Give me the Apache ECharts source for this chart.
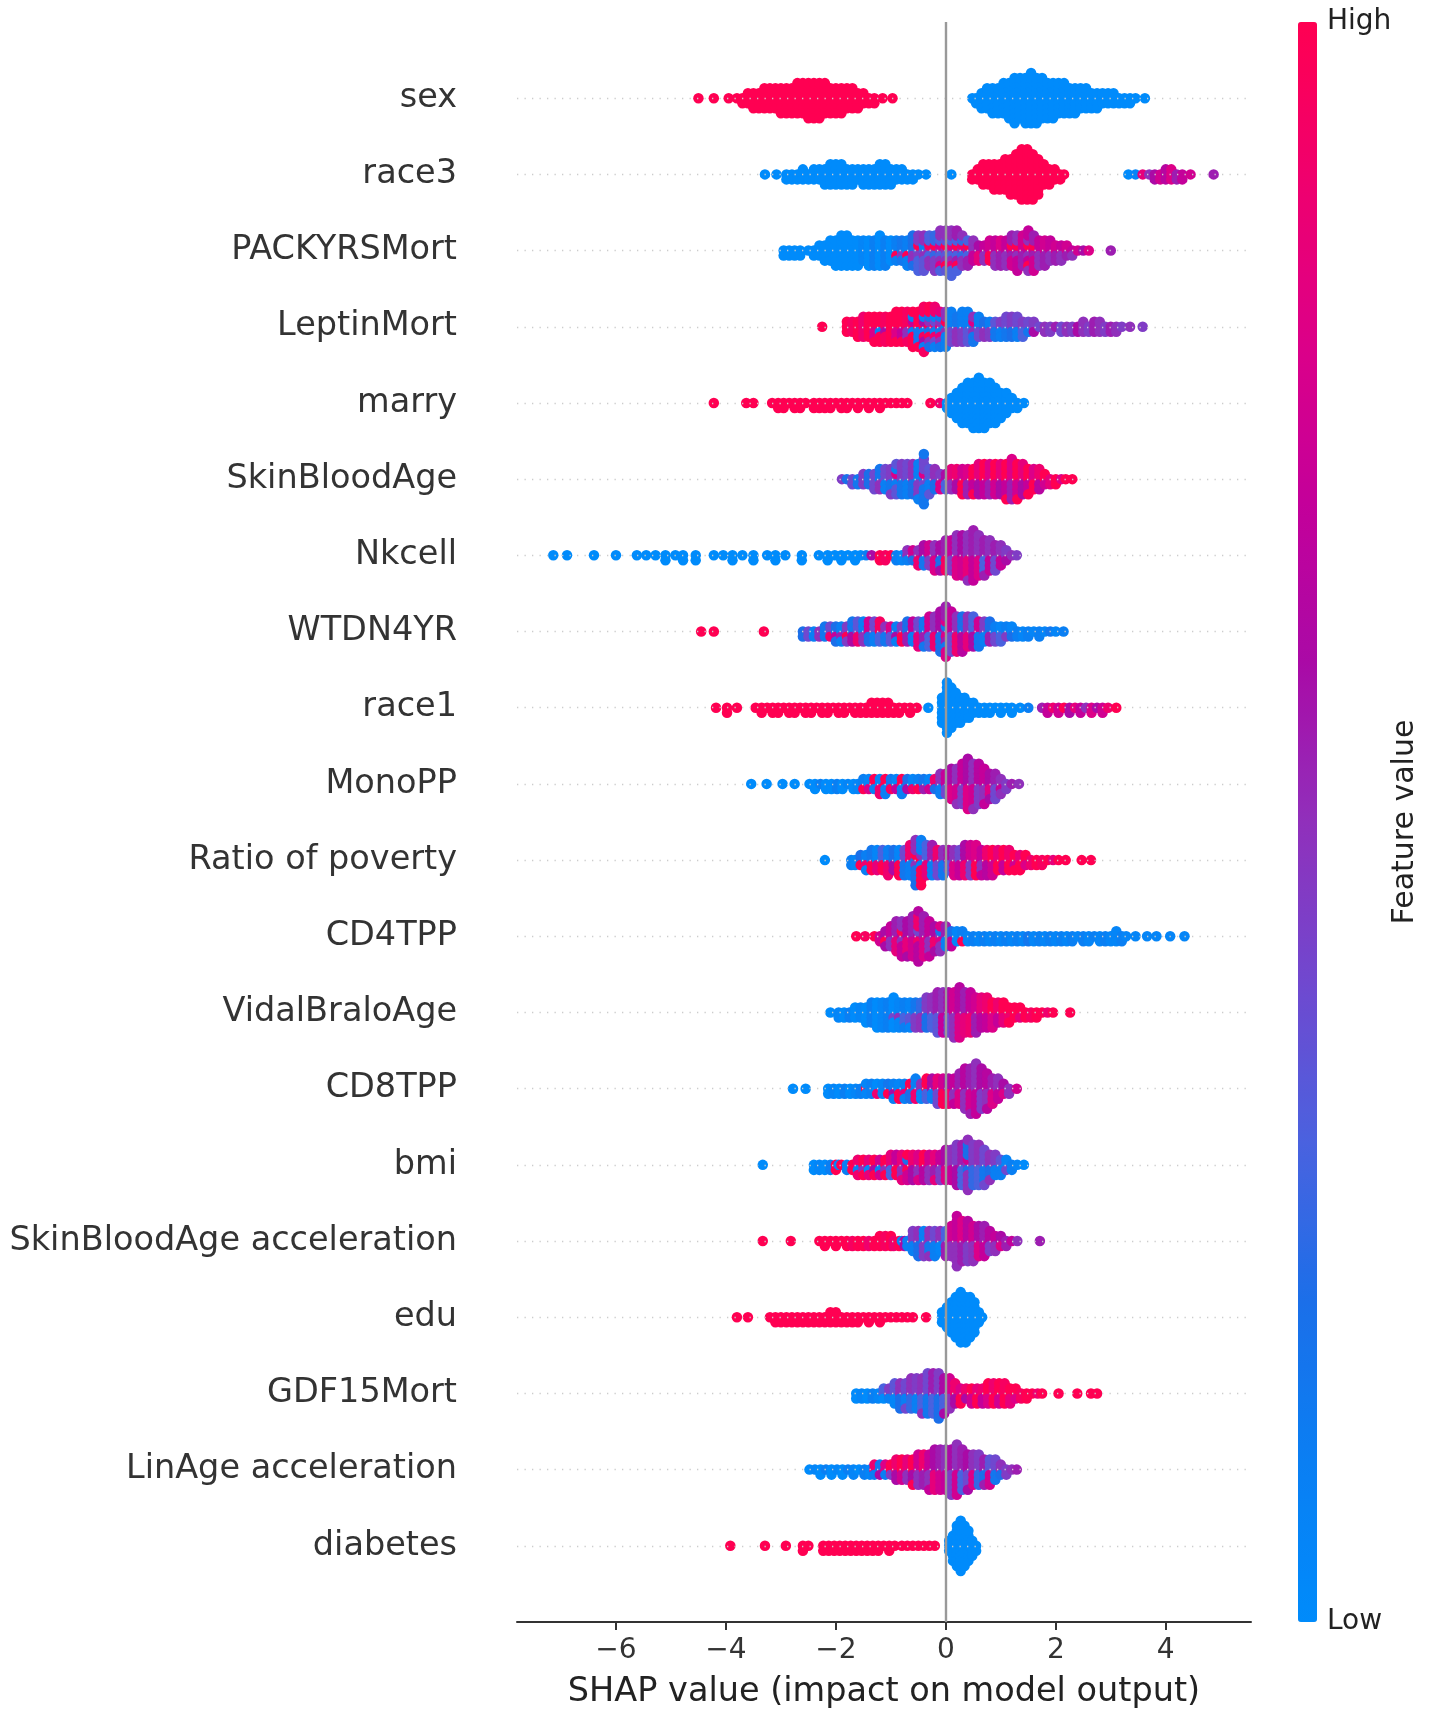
<!DOCTYPE html>
<html>
<head>
<meta charset="utf-8">
<script src="https://cdn.jsdelivr.net/npm/echarts@6/dist/echarts.min.js"></script>
<style>
html,body{margin:0;padding:0;background:#fff;}
#chart{width:1430px;height:1724px;}
</style>
</head>
<body>
<div id="chart"></div>
<script>
// Feature names, top to bottom
const featureNames = ['sex','race3','PACKYRSMort','LeptinMort','marry','SkinBloodAge','Nkcell','WTDN4YR','race1','MonoPP','Ratio of poverty','CD4TPP','VidalBraloAge','CD8TPP','bmi','SkinBloodAge acceleration','edu','GDF15Mort','LinAge acceleration','diabetes'];
const xTickValues = [-6,-4,-2,0,2,4];

// Each entry: [SHAP value, number of samples at that value, feature value 0(low)..1(high)]
const sexPts = [[-4.5,1,1],[-4.22,1,1],[-3.95,1,1],[-3.8,1,1],[-3.7,2,1],[-3.6,3,1],[-3.5,4,1],[-3.4,4,1],[-3.3,5,1],[-3.2,5,1],[-3.1,5,1],[-3.0,6,1],[-2.9,6,1],[-2.8,6,1],[-2.7,7,1],[-2.6,7,1],[-2.5,8,1],[-2.4,8,1],[-2.3,8,1],[-2.2,7,1],[-2.1,6,1],[-2.0,6,1],[-1.9,6,1],[-1.8,5,1],[-1.7,5,1],[-1.6,4,1],[-1.5,3,1],[-1.4,2,1],[-1.3,2,1],[-1.15,1,1],[-0.97,1,1],
[0.48,1,0],[0.55,2,0],[0.65,4,0],[0.75,5,0],[0.85,6,0],[0.95,6,0],[1.05,7,0],[1.15,8,0],[1.25,10,0],[1.35,9,0],[1.45,10,0],[1.55,11,0],[1.65,10,0],[1.75,9,0],[1.85,8,0],[1.95,8,0],[2.05,7,0],[2.15,7,0],[2.25,6,0],[2.35,6,0],[2.45,5,0],[2.55,5,0],[2.65,4,0],[2.75,4,0],[2.85,3,0],[2.95,3,0],[3.05,3,0],[3.15,2,0],[3.25,2,0],[3.35,2,0],[3.45,1,0],[3.62,1,0]];

const race3Pts = [[-3.29,1,0],[-3.08,1,0],[-2.9,2,0],[-2.8,2,0],[-2.7,2,0],[-2.6,3,0],[-2.5,2,0],[-2.4,3,0],[-2.3,3,0],[-2.2,4,0],[-2.1,5,0],[-2.0,5,0],[-1.9,5,0],[-1.8,4,0],[-1.7,4,0],[-1.6,3,0],[-1.5,4,0],[-1.4,4,0],[-1.3,4,0],[-1.2,5,0],[-1.1,5,0],[-1.0,4,0],[-0.9,3,0],[-0.8,3,0],[-0.7,2,0],[-0.6,2,0],[-0.5,1,0],[-0.36,1,0],[0.1,1,0],
[0.48,2,1],[0.58,3,1],[0.68,5,1],[0.78,5,1],[0.88,6,1],[0.98,6,1],[1.08,7,1],[1.18,8,1],[1.28,9,1],[1.38,11,1],[1.48,11,1],[1.58,10,1],[1.68,8,1],[1.78,5,1],[1.88,4,1],[1.98,3,1],[2.08,2,1],[2.15,1,1],
[3.32,1,0],[3.45,1,0.05],[3.58,1,0.85],[3.7,1,0.5],[3.8,2,0.6],[3.9,2,0.75],[4.0,3,0.65],[4.1,3,0.8],[4.2,2,0.55],[4.3,2,0.7],[4.45,1,0.75],[4.87,1,0.55]];

const packyrsPts = [[-2.95,2,0],[-2.85,2,0],[-2.75,2,0],[-2.65,2,0],[-2.5,1,0],[-2.4,2,0],[-2.3,3,0],[-2.2,4,0],[-2.1,5,0],[-2.0,6,0],[-1.9,7,0],[-1.8,7,0],[-1.7,6,0],[-1.6,6,0],[-1.5,5,0.05],[-1.4,6,0],[-1.3,6,0.1],[-1.2,7,0],[-1.1,6,0.1],[-1.0,5,0],[-0.9,4,0.1],[-0.9,1,1],[-0.8,4,0.15],[-0.8,1,0.45],[-0.7,5,0.1],[-0.7,1,1],[-0.6,5,0.2],[-0.6,2,0.5],[-0.5,4,0.3],[-0.5,3,0.45],[-0.5,1,1],[-0.4,4,0.35],[-0.4,3,0.5],[-0.4,1,0.1],[-0.3,3,0.5],[-0.3,3,0.3],[-0.3,1,0.95],[-0.2,4,0.45],[-0.2,3,0.25],[-0.2,1,1],[-0.1,4,0.5],[-0.1,3,0.3],[-0.1,2,0.8],[0.0,4,0.5],[0.0,3,0.35],[0.0,2,1],[0.1,4,0.5],[0.1,4,0.3],[0.1,2,0.85],[0.2,4,0.55],[0.2,3,0.3],[0.2,2,1],[0.3,4,0.5],[0.3,2,0.25],[0.3,1,0.9],[0.4,3,0.55],[0.4,2,0.3],[0.4,1,1],[0.5,3,0.5],[0.5,2,0.7],[0.6,2,0.6],[0.6,2,0.85],[0.7,2,0.7],[0.7,2,0.5],[0.8,3,0.75],[0.8,2,1],[0.9,3,0.7],[0.9,3,0.5],[1.0,3,0.8],[1.0,3,0.55],[1.1,3,0.7],[1.1,3,0.5],[1.2,3,0.75],[1.2,3,0.55],[1.2,1,1],[1.3,4,0.7],[1.3,3,0.5],[1.3,1,1],[1.4,4,0.75],[1.4,3,0.55],[1.5,4,0.7],[1.5,3,0.5],[1.5,2,1],[1.6,4,0.75],[1.6,3,0.55],[1.6,1,1],[1.7,3,0.7],[1.7,3,0.5],[1.8,3,0.75],[1.8,3,0.55],[1.9,3,0.7],[1.9,2,0.5],[2.0,2,0.75],[2.0,2,0.55],[2.1,2,0.7],[2.1,2,0.5],[2.2,2,0.75],[2.2,1,0.55],[2.3,1,0.7],[2.3,1,0.5],[2.4,1,0.75],[2.5,1,0.6],[2.6,1,0.8],[3.0,1,0.55]];

const leptinPts = [[-2.25,1,1],[-1.8,3,1],[-1.7,3,0.95],[-1.6,4,1],[-1.5,5,0.9],[-1.4,5,1],[-1.3,4,1],[-1.3,2,0.8],[-1.2,5,1],[-1.2,1,0.1],[-1.1,5,0.95],[-1.1,1,0.6],[-1.0,6,1],[-0.9,5,1],[-0.9,2,0.8],[-0.8,5,1],[-0.8,2,0.7],[-0.7,5,0.95],[-0.7,2,0.5],[-0.6,5,1],[-0.6,2,0.1],[-0.6,1,0.7],[-0.5,5,1],[-0.5,3,0.15],[-0.4,5,0.95],[-0.4,3,0.1],[-0.4,2,0.6],[-0.3,4,1],[-0.3,3,0.2],[-0.3,2,0.5],[-0.2,4,0.9],[-0.2,3,0.1],[-0.2,2,0.4],[-0.1,3,0.85],[-0.1,3,0.15],[-0.1,2,0.5],[0.0,4,0.1],[0.0,3,0.5],[0.0,1,1],[0.1,4,0.1],[0.1,3,0.4],[0.2,3,0.15],[0.2,3,0.5],[0.3,4,0.1],[0.3,3,0.45],[0.4,4,0.1],[0.4,3,0.35],[0.5,3,0.15],[0.5,2,0.5],[0.5,1,0.8],[0.6,3,0.1],[0.6,2,0.4],[0.7,2,0.2],[0.7,2,0.5],[0.8,2,0.1],[0.8,2,0.45],[0.9,2,0.35],[0.9,2,0.15],[1.0,2,0.45],[1.0,2,0.1],[1.1,3,0.4],[1.1,2,0.15],[1.2,3,0.45],[1.2,2,0.2],[1.3,3,0.4],[1.3,2,0.1],[1.4,2,0.45],[1.4,2,0.3],[1.5,2,0.4],[1.5,1,0.15],[1.6,2,0.45],[1.6,1,0.6],[1.7,1,0.4],[1.8,2,0.5],[1.9,2,0.45],[2.0,1,0.55],[2.1,2,0.4],[2.2,2,0.5],[2.3,2,0.45],[2.4,2,0.6],[2.5,3,0.5],[2.6,2,0.45],[2.7,3,0.55],[2.8,3,0.5],[2.9,2,0.45],[3.0,2,0.55],[3.1,2,0.5],[3.2,1,0.45],[3.35,1,0.5],[3.58,1,0.45]];

const marryPts = [[-4.22,1,1],[-3.63,1,1],[-3.5,1,1],[-3.16,1,1],[-3.05,2,1],[-2.95,2,1],[-2.85,1,1],[-2.75,2,1],[-2.65,2,1],[-2.55,1,1],[-2.4,2,1],[-2.3,2,1],[-2.2,2,1],[-2.1,2,1],[-2.0,1,1],[-1.9,2,1],[-1.8,2,1],[-1.7,1,1],[-1.6,2,1],[-1.5,1,1],[-1.4,2,1],[-1.3,1,1],[-1.2,2,1],[-1.1,1,1],[-1.0,1,1],[-0.9,1,1],[-0.8,1,1],[-0.7,1,1],[-0.28,1,1],[-0.11,1,0.9],
[0.02,2,0],[0.1,4,0],[0.2,6,0],[0.3,8,0],[0.4,9,0],[0.5,10,0],[0.6,11,0],[0.7,10,0],[0.8,9,0],[0.9,8,0],[1.0,6,0],[1.1,5,0],[1.2,3,0],[1.3,2,0],[1.42,1,0]];

const skinBloodAgePts = [[-1.89,1,0.45],[-1.8,1,0.2],[-1.7,2,0.4],[-1.6,2,0.15],[-1.5,3,0.45],[-1.4,3,0.2],[-1.3,4,0.4],[-1.2,3,0.15],[-1.2,2,0.5],[-1.1,3,0.4],[-1.1,2,0.1],[-1.0,4,0.45],[-1.0,2,0.15],[-0.9,4,0.35],[-0.9,2,0.1],[-0.9,1,0.8],[-0.8,4,0.45],[-0.8,3,0.15],[-0.7,4,0.4],[-0.7,3,0.1],[-0.6,4,0.5],[-0.6,3,0.2],[-0.5,5,0.1],[-0.5,3,0.45],[-0.4,6,0.15],[-0.4,4,0.4],[-0.4,1,0.8],[-0.3,4,0.35],[-0.3,2,0.1],[-0.2,3,0.5],[-0.2,2,0.2],[-0.1,2,0.45],[-0.1,2,0.8],[0.0,2,0.6],[0.0,2,0.3],[0.1,3,0.85],[0.1,2,0.5],[0.2,3,0.9],[0.2,2,0.6],[0.3,3,0.75],[0.3,3,1],[0.4,3,0.8],[0.4,3,0.55],[0.5,4,1],[0.5,2,0.7],[0.6,4,0.85],[0.6,3,0.6],[0.7,4,1],[0.7,3,0.7],[0.8,4,0.8],[0.8,3,0.55],[0.9,4,1],[0.9,3,0.75],[1.0,4,0.85],[1.0,3,0.6],[1.1,5,1],[1.1,3,0.7],[1.2,5,0.8],[1.2,4,0.55],[1.3,5,1],[1.3,3,0.75],[1.4,4,0.85],[1.4,3,0.6],[1.5,4,1],[1.5,2,0.7],[1.6,3,0.8],[1.6,2,1],[1.7,3,0.9],[1.7,2,0.65],[1.8,2,1],[1.8,1,0.75],[1.9,2,0.85],[2.0,2,1],[2.1,1,0.8],[2.18,1,1],[2.3,1,1]];

const nkcellPts = [[-7.14,1,0],[-6.89,1,0],[-6.4,1,0],[-6.0,1,0],[-5.62,1,0],[-5.45,1,0],[-5.28,1,0],[-5.1,2,0],[-4.92,1,0],[-4.78,2,0],[-4.55,2,0],[-4.22,1,0],[-4.05,1,0],[-3.88,2,0],[-3.7,1,0],[-3.5,2,0],[-3.25,1,0],[-3.1,2,0],[-2.92,1,0],[-2.62,2,0],[-2.31,1,0],[-2.15,2,0],[-2.02,1,0],[-1.9,2,0],[-1.78,1,0],[-1.65,2,0],[-1.55,1,0],[-1.45,1,0.1],[-1.35,1,0.6],[-1.2,2,1],[-1.1,2,0.95],[-1.0,1,1],[-0.9,2,0.1],[-0.8,2,0.05],[-0.7,2,0.5],[-0.7,1,0.1],
[-0.6,2,0.75],[-0.6,1,0.2],[-0.5,2,0.5],[-0.5,2,0.9],[-0.4,3,0.6],[-0.4,2,0.15],[-0.3,3,0.75],[-0.3,2,0.45],[-0.2,3,0.5],[-0.2,3,0.8],[-0.1,4,0.6],[-0.1,2,0.2],[0.0,4,0.55],[0.0,3,0.95],[0.1,4,0.7],[0.1,3,0.45],[0.2,5,0.5],[0.2,4,0.8],[0.3,5,0.6],[0.3,4,0.75],[0.4,6,0.5],[0.4,4,0.85],[0.5,6,0.55],[0.5,5,0.7],[0.6,5,0.5],[0.6,4,0.8],[0.7,5,0.55],[0.7,3,0.3],[0.8,4,0.5],[0.8,3,0.7],[0.9,3,0.55],[0.9,3,0.4],[1.0,3,0.5],[1.0,2,0.7],[1.1,2,0.45],[1.1,1,0.6],[1.2,1,0.5],[1.29,1,0.45]];

const wtdn4yrPts = [[-4.45,1,1],[-4.22,1,1],[-3.31,1,1],[-2.6,2,0.2],[-2.5,2,0.4],[-2.4,2,0.1],[-2.3,2,0.5],[-2.2,3,0.15],[-2.1,2,0.4],[-2.1,1,0.9],[-2.0,3,0.2],[-2.0,1,0.7],[-1.9,3,0.1],[-1.9,1,0.55],[-1.8,3,0.45],[-1.8,1,1],[-1.7,3,0.15],[-1.7,2,0.6],[-1.6,3,0.35],[-1.6,2,0.9],[-1.5,3,0.1],[-1.5,2,0.5],[-1.4,3,0.75],[-1.4,2,0.2],[-1.3,3,0.4],[-1.3,2,0.1],[-1.2,3,0.95],[-1.2,2,0.3],[-1.1,2,0.5],[-1.1,2,0.15],[-1.0,2,0.8],[-1.0,2,0.35],[-0.9,3,0.1],[-0.9,1,0.6],[-0.8,2,0.45],[-0.8,2,1],[-0.7,3,0.2],[-0.7,2,0.55],[-0.6,3,0.7],[-0.6,2,0.1],[-0.5,3,0.4],[-0.5,3,0.85],[-0.4,4,0.15],[-0.4,2,0.55],[-0.3,4,0.75],[-0.3,3,0.3],[-0.2,4,0.5],[-0.2,3,0.9],[-0.1,5,0.6],[-0.1,4,0.2],[0.0,5,0.55],[0.0,4,0.8],[0.0,2,0.15],[0.1,5,0.7],[0.1,4,0.4],[0.2,4,0.5],[0.2,4,0.9],[0.3,4,0.2],[0.3,4,0.65],[0.4,4,0.5],[0.4,3,0.85],[0.5,4,0.3],[0.5,3,0.6],[0.6,3,0.75],[0.6,3,0.15],[0.7,3,0.45],[0.7,2,0.1],[0.8,3,0.2],[0.8,2,0.55],[0.9,2,0.1],[0.9,2,0.4],[1.0,2,0.05],[1.0,2,0.3],[1.1,2,0.1],[1.1,1,0.45],[1.2,2,0.05],[1.2,1,0.2],[1.3,2,0.1],[1.4,2,0.05],[1.5,2,0.1],[1.6,1,0.05],[1.7,2,0.1],[1.8,1,0.05],[1.9,1,0.15],[2.0,1,0.05],[2.14,1,0.1]];

const race1Pts = [[-4.18,1,1],[-3.98,2,1],[-3.8,1,1],[-3.46,1,1],[-3.35,2,1],[-3.25,1,1],[-3.15,2,1],[-3.05,2,1],[-2.95,1,1],[-2.85,2,1],[-2.75,2,1],[-2.65,1,1],[-2.55,2,1],[-2.45,2,1],[-2.35,1,1],[-2.25,2,1],[-2.15,2,1],[-2.05,1,1],[-1.95,2,1],[-1.85,2,1],[-1.75,1,1],[-1.65,2,1],[-1.55,2,1],[-1.45,2,1],[-1.35,3,1],[-1.25,3,1],[-1.15,3,1],[-1.05,3,1],[-0.95,2,1],[-0.85,2,1],[-0.75,1,1],[-0.65,2,1],[-0.53,1,1],[-0.32,1,0],
[-0.07,6,0],[0.02,11,0],[0.1,9,0],[0.18,7,0],[0.26,6,0],[0.34,5,0],[0.42,4,0],[0.5,3,0],[0.6,2,0],[0.7,2,0],[0.8,2,0],[0.9,1,0],[1.0,2,0],[1.1,1,0],[1.2,2,0],[1.35,1,0],[1.5,1,0.1],
[1.75,1,0.55],[1.85,2,0.7],[1.95,1,0.9],[2.05,2,0.75],[2.15,1,1],[2.25,2,0.6],[2.35,1,0.85],[2.45,2,0.7],[2.55,1,0.5],[2.65,2,0.8],[2.75,1,0.6],[2.85,2,0.75],[2.95,1,0.9],[3.1,1,1]];

const monoPPPts = [[-3.54,1,0],[-3.26,1,0],[-2.97,1,0],[-2.75,1,0],[-2.48,1,0],[-2.38,2,0],[-2.28,1,0.1],[-2.18,2,0],[-2.08,2,0],[-1.98,2,0.1],[-1.88,2,0],[-1.78,1,0.05],[-1.68,2,0],[-1.6,2,0.05],[-1.5,2,0.1],[-1.5,1,1],[-1.4,2,0.05],[-1.4,1,0.8],[-1.3,2,1],[-1.3,1,0.1],[-1.2,2,0.05],[-1.2,2,0.9],[-1.1,2,1],[-1.1,2,0.1],[-1.0,2,0.15],[-1.0,1,0.95],[-0.9,2,0.05],[-0.9,1,0.7],[-0.8,2,1],[-0.8,2,0.1],[-0.7,2,0.2],[-0.7,1,0.6],[-0.6,2,0.05],[-0.6,1,0.9],[-0.5,2,0.1],[-0.5,1,1],[-0.4,2,0.15],[-0.4,1,0.55],[-0.3,2,0.05],[-0.3,1,0.75],[-0.2,2,0.9],[-0.2,1,0.2],[-0.1,3,0.5],[-0.1,2,0.1],[0.0,3,0.7],[0.0,2,0.4],[0.1,4,0.6],[0.1,3,0.8],[0.2,5,0.5],[0.2,3,0.75],[0.3,5,0.7],[0.3,4,0.45],[0.4,6,0.6],[0.4,5,0.8],[0.5,6,0.5],[0.5,4,0.75],[0.6,5,0.65],[0.6,4,0.45],[0.7,5,0.7],[0.7,3,0.5],[0.8,4,0.6],[0.8,2,0.8],[0.9,3,0.55],[0.9,3,0.4],[1.0,3,0.5],[1.0,1,0.7],[1.1,2,0.45],[1.2,1,0.55],[1.33,1,0.5]];

const povertyPts = [[-2.2,1,0],[-1.72,2,0.1],[-1.65,2,0.05],[-1.55,2,0.2],[-1.55,1,1],[-1.45,3,0.1],[-1.45,1,0.9],[-1.35,3,0.15],[-1.35,2,1],[-1.25,3,0.05],[-1.25,2,0.85],[-1.15,3,0.3],[-1.15,2,1],[-1.05,3,0.1],[-1.05,3,0.9],[-0.95,3,0.2],[-0.95,2,0.6],[-0.85,3,0.05],[-0.85,3,1],[-0.75,3,0.4],[-0.75,3,0.15],[-0.65,4,0.9],[-0.65,3,0.1],[-0.55,5,0.2],[-0.55,4,0.5],[-0.55,1,1],[-0.45,5,1],[-0.45,4,0.1],[-0.45,1,0.5],[-0.35,4,0.3],[-0.35,3,0.85],[-0.25,4,0.55],[-0.25,3,0.1],[-0.15,3,0.9],[-0.15,3,0.4],[-0.05,3,0.5],[-0.05,3,0.15],[0.05,3,0.6],[0.05,2,0.35],[0.15,3,0.5],[0.15,3,0.8],[0.25,3,0.4],[0.25,3,0.7],[0.35,4,0.6],[0.35,3,0.9],[0.45,4,0.75],[0.45,3,0.45],[0.55,4,0.8],[0.55,3,1],[0.65,4,0.7],[0.65,2,0.5],[0.75,3,0.9],[0.75,3,0.65],[0.85,3,1],[0.85,3,0.75],[0.95,3,0.85],[0.95,2,1],[1.05,3,1],[1.05,2,0.7],[1.15,3,0.9],[1.15,2,1],[1.25,3,1],[1.25,1,0.75],[1.35,2,0.85],[1.35,2,1],[1.45,2,1],[1.45,1,0.8],[1.55,2,0.9],[1.65,2,1],[1.75,2,0.95],[1.85,1,1],[1.95,1,0.85],[2.05,1,1],[2.18,1,1],[2.47,1,1],[2.64,1,1]];

const cd4tppPts = [[-1.63,1,1],[-1.47,1,0.95],[-1.3,1,1],[-1.2,2,0.75],[-1.1,3,0.6],[-1.1,1,1],[-1.0,3,0.7],[-1.0,2,0.5],[-0.9,4,0.55],[-0.9,3,0.85],[-0.8,4,0.7],[-0.8,3,0.5],[-0.8,1,1],[-0.7,5,0.6],[-0.7,3,0.85],[-0.6,5,0.55],[-0.6,4,0.75],[-0.5,6,0.65],[-0.5,4,0.9],[-0.5,1,0.4],[-0.4,5,0.55],[-0.4,4,0.8],[-0.3,5,0.7],[-0.3,3,0.5],[-0.2,4,0.6],[-0.2,2,0.9],[-0.1,3,0.5],[-0.1,2,0.8],[-0.1,1,0.15],[0.0,3,0.55],[0.0,2,0.1],[0.1,2,0.2],[0.1,2,0.7],[0.2,3,0.05],[0.3,2,0.1],[0.3,1,1],[0.4,2,0.05],[0.5,2,0.1],[0.6,2,0.05],[0.7,2,0.1],[0.8,2,0.05],[0.9,2,0.1],[1.0,2,0.05],[1.1,2,0.1],[1.2,2,0.05],[1.3,2,0.1],[1.4,2,0.05],[1.5,2,0.15],[1.6,2,0.05],[1.7,2,0.1],[1.8,2,0.05],[1.9,2,0.1],[2.0,2,0.05],[2.1,2,0.1],[2.2,2,0.05],[2.3,2,0.1],[2.4,1,0.05],[2.5,2,0.1],[2.6,2,0.05],[2.7,1,0.1],[2.8,2,0.05],[2.9,2,0.1],[3.0,2,0.05],[3.1,3,0.05],[3.2,2,0.1],[3.28,1,0.05],[3.45,1,0.05],[3.66,1,0.05],[3.83,1,0.05],[4.08,1,0.05],[4.34,1,0.05]];

const vidalPts = [[-2.1,1,0],[-1.95,2,0.05],[-1.85,2,0],[-1.75,2,0.1],[-1.65,3,0],[-1.55,3,0.05],[-1.45,4,0],[-1.35,5,0.1],[-1.25,6,0],[-1.15,6,0.05],[-1.05,6,0.1],[-0.95,6,0],[-0.95,1,0.4],[-0.85,5,0.05],[-0.85,1,0.5],[-0.75,4,0.1],[-0.75,2,0.3],[-0.65,4,0.05],[-0.65,2,0.35],[-0.55,3,0.15],[-0.55,3,0.45],[-0.45,3,0.25],[-0.45,3,0.5],[-0.35,4,0.45],[-0.35,3,0.2],[-0.25,4,0.5],[-0.25,3,0.3],[-0.15,5,0.55],[-0.15,4,0.35],[-0.05,5,0.5],[-0.05,4,0.7],[0.05,5,0.6],[0.05,4,0.4],[0.15,5,0.75],[0.15,5,0.5],[0.25,6,0.65],[0.25,5,0.8],[0.35,5,0.55],[0.35,4,0.85],[0.45,5,0.7],[0.45,4,0.9],[0.55,4,0.75],[0.55,4,0.55],[0.65,4,0.85],[0.65,3,0.65],[0.75,4,0.9],[0.75,3,0.7],[0.85,3,1],[0.85,3,0.8],[0.95,3,0.9],[0.95,2,0.7],[1.05,3,1],[1.05,2,0.85],[1.15,3,1],[1.15,1,0.9],[1.25,3,1],[1.35,2,1],[1.35,1,0.85],[1.45,2,1],[1.55,2,0.95],[1.65,2,1],[1.75,1,1],[1.85,1,0.9],[1.95,1,1],[2.26,1,1]];

const cd8tppPts = [[-2.78,1,0],[-2.55,1,0],[-2.14,2,0],[-2.04,2,0.05],[-1.94,2,0],[-1.84,2,0.1],[-1.74,2,0],[-1.64,2,0.05],[-1.55,2,0.1],[-1.45,1,1],[-1.45,2,0.05],[-1.35,3,0.1],[-1.25,2,0],[-1.25,1,0.9],[-1.15,3,0.05],[-1.05,2,0.15],[-1.05,1,1],[-0.95,3,0.1],[-0.95,1,0.6],[-0.85,2,0.05],[-0.85,2,1],[-0.75,3,0.1],[-0.75,1,0.85],[-0.65,2,1],[-0.65,2,0.2],[-0.55,3,0.1],[-0.55,2,0.9],[-0.45,2,0.5],[-0.45,2,0.05],[-0.35,3,1],[-0.35,2,0.3],[-0.25,3,0.6],[-0.25,2,0.1],[-0.15,3,0.85],[-0.15,3,0.4],[-0.05,3,0.75],[-0.05,3,1],[0.05,3,0.6],[0.05,3,0.9],[0.15,4,0.7],[0.15,2,0.5],[0.25,4,0.55],[0.25,3,0.8],[0.35,5,0.65],[0.35,4,0.5],[0.45,6,0.55],[0.45,4,0.75],[0.55,6,0.5],[0.55,5,0.7],[0.65,5,0.6],[0.65,4,0.45],[0.75,5,0.65],[0.75,3,0.5],[0.85,3,0.55],[0.85,3,0.8],[0.95,3,0.5],[0.95,2,0.7],[1.05,2,0.6],[1.05,1,0.8],[1.15,2,0.5],[1.29,1,0.75]];

const bmiPts = [[-3.33,1,0],[-2.4,2,0],[-2.3,2,0.05],[-2.2,2,0],[-2.1,2,0.1],[-2.0,2,1],[-1.95,1,0.05],[-1.9,1,1],[-1.8,2,0.1],[-1.7,2,1],[-1.6,3,0.9],[-1.6,1,0.1],[-1.5,3,1],[-1.5,1,0.5],[-1.4,3,0.85],[-1.4,1,0.05],[-1.3,3,1],[-1.3,1,0.6],[-1.2,3,0.75],[-1.2,1,0.1],[-1.1,3,1],[-1.1,1,0.5],[-1.0,3,0.85],[-1.0,2,0.3],[-0.9,3,0.7],[-0.9,2,1],[-0.8,4,0.85],[-0.8,2,0.5],[-0.7,3,0.75],[-0.7,2,1],[-0.7,1,0.2],[-0.6,3,0.9],[-0.6,3,0.6],[-0.5,4,0.8],[-0.5,2,0.5],[-0.4,3,1],[-0.4,3,0.65],[-0.3,3,0.75],[-0.3,3,0.5],[-0.2,4,0.85],[-0.2,2,0.55],[-0.1,3,0.7],[-0.1,3,0.45],[0.0,4,0.6],[0.0,3,0.8],[0.1,4,0.5],[0.1,3,0.7],[0.2,5,0.45],[0.2,4,0.6],[0.3,5,0.55],[0.3,4,0.3],[0.4,6,0.5],[0.4,4,0.2],[0.4,1,0.75],[0.5,5,0.45],[0.5,4,0.25],[0.6,5,0.5],[0.6,4,0.3],[0.7,5,0.4],[0.7,3,0.15],[0.8,4,0.5],[0.8,2,0.2],[0.9,3,0.45],[0.9,2,0.1],[1.0,2,0.35],[1.0,2,0.1],[1.1,2,0.05],[1.1,1,0.4],[1.2,2,0.1],[1.3,1,0.05],[1.42,1,0]];

const sbaAccPts = [[-3.33,1,1],[-2.82,1,1],[-2.3,1,1],[-2.2,2,1],[-2.1,1,1],[-2.0,2,1],[-1.9,1,1],[-1.8,2,1],[-1.7,2,0.95],[-1.6,2,1],[-1.5,2,1],[-1.4,2,0.9],[-1.3,2,1],[-1.2,3,1],[-1.1,3,0.95],[-1.0,3,1],[-0.95,2,0.9],[-0.85,2,1],[-0.8,1,0.05],[-0.75,2,0.6],[-0.7,2,0.1],[-0.6,3,0.45],[-0.6,2,0.1],[-0.5,3,0.5],[-0.5,3,0.2],[-0.4,3,0.1],[-0.4,3,0.45],[-0.3,4,0.5],[-0.3,2,0.15],[-0.2,3,0.4],[-0.2,3,0.1],[-0.1,3,0.5],[-0.1,2,0.05],[0.0,3,0.3],[0.0,3,0.55],[0.1,4,0.75],[0.1,3,0.5],[0.2,6,0.7],[0.2,5,0.5],[0.3,5,0.8],[0.3,4,0.55],[0.4,5,0.65],[0.4,4,0.45],[0.5,4,0.75],[0.5,4,0.5],[0.6,4,0.6],[0.6,3,0.8],[0.7,4,0.55],[0.7,3,0.7],[0.8,3,0.65],[0.8,2,0.45],[0.9,2,0.7],[0.9,2,0.5],[1.0,2,0.6],[1.0,1,0.8],[1.1,2,0.55],[1.2,1,0.7],[1.3,1,0.5],[1.71,1,0.55]];

const eduPts = [[-3.8,1,1],[-3.6,1,1],[-3.2,1,1],[-3.1,2,1],[-3.0,2,1],[-2.9,2,1],[-2.8,2,1],[-2.7,2,1],[-2.6,2,1],[-2.5,2,1],[-2.4,2,1],[-2.3,2,1],[-2.2,2,1],[-2.1,3,1],[-2.0,3,1],[-1.9,2,1],[-1.8,2,1],[-1.7,2,1],[-1.6,2,1],[-1.5,1,1],[-1.4,2,1],[-1.3,1,1],[-1.2,2,1],[-1.1,1,1],[-1.0,1,1],[-0.9,1,1],[-0.8,1,1],[-0.7,1,1],[-0.6,1,1],[-0.36,1,1],
[-0.07,3,0],[0.02,5,0],[0.1,7,0],[0.18,9,0],[0.27,11,0],[0.36,10,0],[0.44,9,0],[0.52,7,0],[0.6,3,0],[0.66,1,0]];

const gdf15Pts = [[-1.63,2,0],[-1.53,2,0.05],[-1.43,2,0],[-1.33,2,0.1],[-1.23,2,0.05],[-1.13,2,0.3],[-1.13,1,0],[-1.03,2,0.45],[-1.03,1,0.1],[-0.93,3,0.35],[-0.93,2,0.05],[-0.83,3,0.5],[-0.83,3,0.2],[-0.73,4,0.4],[-0.73,2,0.1],[-0.63,4,0.5],[-0.63,3,0.25],[-0.53,4,0.45],[-0.53,3,0.1],[-0.43,5,0.5],[-0.43,3,0.3],[-0.33,5,0.4],[-0.33,4,0.15],[-0.23,5,0.55],[-0.23,4,0.3],[-0.13,5,0.45],[-0.13,5,0.2],[-0.03,5,0.6],[-0.03,3,0.3],[0.07,4,0.75],[0.07,3,0.5],[0.17,3,0.9],[0.17,2,0.6],[0.27,2,0.8],[0.27,2,1],[0.37,2,0.9],[0.37,1,0.6],[0.47,2,1],[0.47,2,0.75],[0.57,2,0.85],[0.57,2,1],[0.67,2,0.9],[0.67,2,0.7],[0.77,3,1],[0.77,2,0.8],[0.87,3,0.9],[0.87,2,1],[0.97,3,1],[0.97,2,0.75],[1.07,3,0.95],[1.07,2,1],[1.17,2,1],[1.17,2,0.85],[1.27,2,1],[1.27,1,0.8],[1.37,2,0.95],[1.47,2,1],[1.57,1,1],[1.67,1,0.9],[1.75,1,1],[2.05,1,1],[2.39,1,1],[2.64,1,1],[2.75,1,1]];

const linAgeAccPts = [[-2.48,1,0],[-2.38,1,0.05],[-2.28,2,0],[-2.18,1,0.1],[-2.08,2,0],[-1.98,1,0.05],[-1.88,2,0],[-1.78,1,0.1],[-1.68,2,0.05],[-1.58,1,0],[-1.48,2,0.1],[-1.38,2,0.05],[-1.3,2,0.9],[-1.3,1,0.1],[-1.2,2,0.15],[-1.2,1,0.6],[-1.1,2,0.8],[-1.1,1,0.1],[-1.0,2,1],[-1.0,1,0.45],[-0.9,3,0.9],[-0.9,2,0.6],[-0.8,3,1],[-0.8,2,0.75],[-0.7,3,0.85],[-0.7,2,0.5],[-0.6,4,1],[-0.6,2,0.6],[-0.5,4,0.75],[-0.5,3,0.5],[-0.4,4,0.9],[-0.4,3,0.55],[-0.3,5,0.7],[-0.3,3,0.5],[-0.2,5,0.6],[-0.2,4,0.85],[-0.1,5,0.55],[-0.1,4,0.75],[0.0,5,0.5],[0.0,4,0.7],[0.1,5,0.6],[0.1,5,0.45],[0.2,6,0.5],[0.2,5,0.75],[0.3,5,0.55],[0.3,4,0.3],[0.4,5,0.6],[0.4,3,0.4],[0.5,4,0.5],[0.5,3,0.8],[0.6,4,0.45],[0.6,3,0.25],[0.7,4,0.55],[0.7,2,0.2],[0.8,3,0.35],[0.8,3,0.75],[0.9,3,0.4],[0.9,2,0.15],[1.0,2,0.5],[1.0,1,0.2],[1.1,2,0.45],[1.2,1,0.5],[1.29,1,0.55]];

const diabetesPts = [[-3.92,1,1],[-3.29,1,1],[-2.91,1,1],[-2.6,2,1],[-2.5,1,1],[-2.23,2,1],[-2.13,2,1],[-2.03,2,1],[-1.93,2,1],[-1.83,2,1],[-1.73,2,1],[-1.63,2,1],[-1.53,2,1],[-1.43,2,1],[-1.33,2,1],[-1.23,2,1],[-1.13,1,1],[-1.03,2,1],[-0.93,1,1],[-0.8,1,1],[-0.7,1,1],[-0.6,1,1],[-0.5,1,1],[-0.4,1,1],[-0.3,1,1],[-0.2,1,1],
[0.06,3,0],[0.13,6,0],[0.2,9,0],[0.27,11,0],[0.34,9,0],[0.41,7,0],[0.48,4,0],[0.55,2,0]];

const rows = [sexPts, race3Pts, packyrsPts, leptinPts, marryPts, skinBloodAgePts, nkcellPts, wtdn4yrPts, race1Pts, monoPPPts, povertyPts, cd4tppPts, vidalPts, cd8tppPts, bmiPts, sbaAccPts, eduPts, gdf15Pts, linAgeAccPts, diabetesPts];

// SHAP red_blue colour map (low -> high)
const cmap = ['#008bfb','#0a7ff3','#1b6fe9','#4a62df','#7048cf','#9030bb','#aa0aa6','#c4009a','#dc0088','#ef006e','#ff0052'];

// Beeswarm layout: samples sharing a SHAP value stack vertically, alternating up/down
function swarm(rowIdx, entries) {
  const groups = new Map();
  entries.forEach(([x, n, c]) => {
    const k = x.toFixed(3);
    if (!groups.has(k)) groups.set(k, { x, lists: [] });
    groups.get(k).lists.push({ n, c });
  });
  const stacks = [];
  let kmax = 1;
  groups.forEach(g => {
    const rem = g.lists.map(l => l.n);
    const colors = [];
    let any = true;
    while (any) {
      any = false;
      g.lists.forEach((l, i) => { if (rem[i] > 0) { colors.push(l.c); rem[i]--; any = true; } });
    }
    stacks.push({ x: g.x, colors });
    kmax = Math.max(kmax, Math.ceil((colors.length - 1) / 2));
  });
  const unit = 0.33 / kmax;
  const pts = [];
  stacks.forEach(s => s.colors.forEach((c, layer) => {
    const off = Math.ceil(layer / 2) * (layer % 2 ? 1 : -1);
    pts.push([s.x, rowIdx + off * unit, c]);
  }));
  return pts;
}

const allPts = [];
rows.forEach((r, i) => swarm(i, r).forEach(p => allPts.push(p)));

const FONT = 'DejaVu Sans';
const minusFmt = v => (v < 0 ? '\u2212' + Math.abs(v) : String(v));

const chart = echarts.init(document.getElementById('chart'), null, { renderer: 'canvas' });
chart.setOption({
  animation: false,
  backgroundColor: '#ffffff',
  textStyle: { fontFamily: FONT },
  grid: { left: 517, right: 179, top: 22, bottom: 102, containLabel: false },
  xAxis: {
    type: 'value', min: -7.8, max: 5.55,
    name: 'SHAP value (impact on model output)',
    nameLocation: 'middle', nameGap: 53,
    nameTextStyle: { fontSize: 33.5, color: '#222', fontFamily: FONT },
    axisLine: { onZero: false, lineStyle: { color: '#333', width: 2 } },
    axisTick: { customValues: xTickValues, length: 8, lineStyle: { color: '#333', width: 2 } },
    axisLabel: { customValues: xTickValues, formatter: minusFmt, fontSize: 28, color: '#333', margin: 15, fontFamily: FONT },
    splitLine: { show: false }
  },
  yAxis: {
    type: 'value', inverse: true, min: -1, max: 20,
    axisLine: { show: false }, axisTick: { show: false }, splitLine: { show: false },
    axisLabel: {
      customValues: featureNames.map((_, i) => i),
      formatter: v => featureNames[Math.round(v)] || '',
      fontSize: 33.5, color: '#333', margin: 60, fontFamily: FONT
    }
  },
  visualMap: {
    type: 'continuous', min: 0, max: 1, dimension: 2, seriesIndex: 1,
    show: true, calculable: false, hoverLink: false,
    orient: 'vertical', left: 1298, top: 22, itemWidth: 19, itemHeight: 1600,
    padding: 0, text: null, showLabel: false,
    inRange: { color: cmap }
  },
  graphic: [
    { type: 'text', x: 1327, y: 22, style: { text: 'High', fontSize: 28, fontFamily: FONT, fill: '#222', align: 'left', verticalAlign: 'middle', textAlign: 'left', textVerticalAlign: 'middle' } },
    { type: 'text', x: 1327, y: 1622, style: { text: 'Low', fontSize: 28, fontFamily: FONT, fill: '#222', align: 'left', verticalAlign: 'middle', textAlign: 'left', textVerticalAlign: 'middle' } },
    { type: 'text', x: 1405, y: 822, rotation: Math.PI / 2, style: { text: 'Feature value', fontSize: 30, fontFamily: FONT, fill: '#222', align: 'center', verticalAlign: 'middle', textAlign: 'center', textVerticalAlign: 'middle' } }
  ],
  series: [
    {
      type: 'line', data: [], z: 1, silent: true,
      markLine: {
        z: 1, silent: true, symbol: ['none', 'none'], label: { show: false }, animation: false,
        data: featureNames.map((_, i) => ({ yAxis: i, lineStyle: { color: '#cccccc', width: 1.3, type: [1.3, 6.2] } }))
          .concat([{ xAxis: 0, lineStyle: { color: '#999999', width: 2.4, type: 'solid' } }])
      }
    },
    {
      type: 'scatter', data: allPts, z: 3, symbol: 'circle', symbolSize: 10.5,
      itemStyle: { opacity: 1, borderWidth: 0 }, large: false, silent: true
    }
  ]
});
</script>
</body>
</html>
